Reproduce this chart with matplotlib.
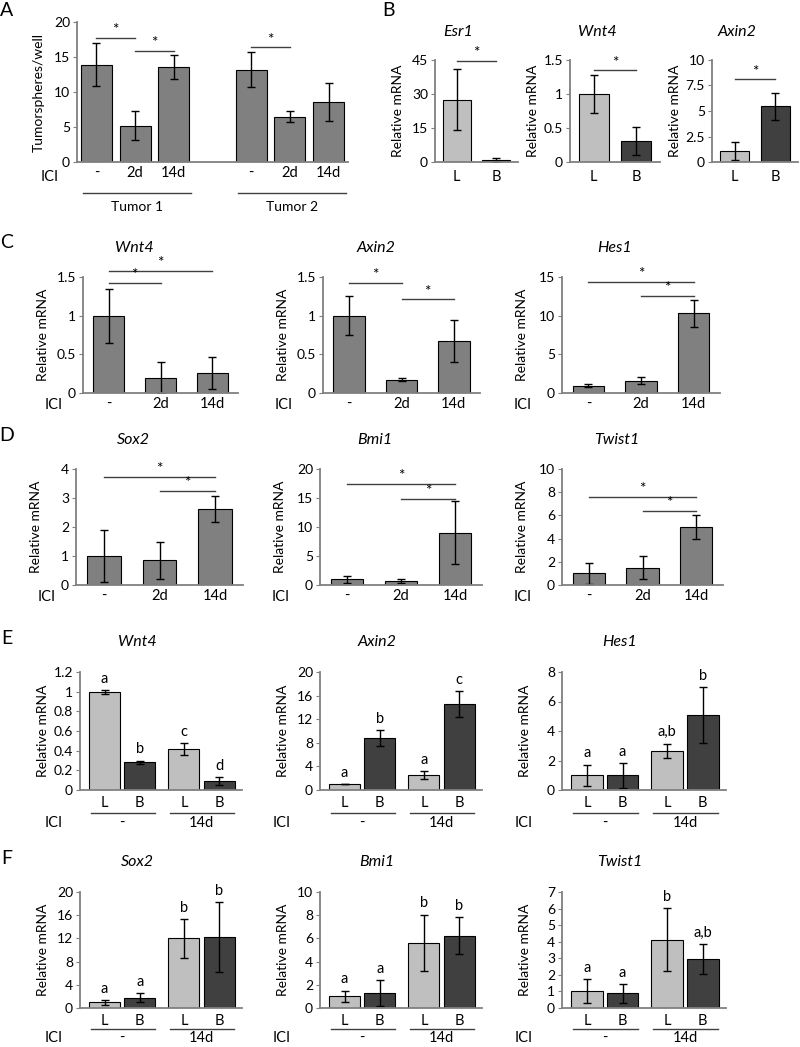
import numpy as np
import matplotlib
matplotlib.use('Agg')
import matplotlib.pyplot as plt
from matplotlib.transforms import blended_transform_factory

plt.rcParams['font.family'] = ['Lato', 'DejaVu Sans']
plt.rcParams['font.size'] = 10

W, H = 800, 1047
MID = '#808080'
LIGHT = '#bfbfbf'
DARK = '#404040'
AXC = '#808080'

# ---------------- data ----------------
# A: tumorspheres per well
a_ticks = ['-', '2d', '14d', '-', '2d', '14d']
a_vals = [13.9, 5.2, 13.6, 13.2, 6.5, 8.6]
a_errs = [3.1, 2.05, 1.7, 2.45, 0.8, 2.7]
a_groups = ['Tumor 1', 'Tumor 2']
a_sig = [(0, 1, 17.7), (1, 2, 15.9), (3, 4, 16.4)]

# B: luminal vs basal
b_genes = ['Esr1', 'Wnt4', 'Axin2']
b_ticks = ['L', 'B']
b_vals = [[27.5, 1.0], [1.0, 0.31], [1.05, 5.45]]
b_errs = [[13.5, 0.8], [0.28, 0.2], [0.9, 1.3]]
b_ymax = [45, 1.5, 10]
b_step = [15, 0.5, 2.5]
b_sig = [44.5, 1.35, 8.1]

# C / D: ICI time course
cd_ticks = ['-', '2d', '14d']
c_genes = ['Wnt4', 'Axin2', 'Hes1']
c_vals = [[1.0, 0.2, 0.26], [1.0, 0.17, 0.67], [0.95, 1.6, 10.3]]
c_errs = [[0.35, 0.2, 0.21], [0.25, 0.02, 0.27], [0.2, 0.45, 1.75]]
c_ymax = [1.5, 1.5, 15]
c_step = [0.5, 0.5, 5]
c_sig = [[(0, 2, 1.58), (0, 1, 1.42)], [(0, 1, 1.42), (1, 2, 1.21)],
         [(0, 2, 14.36), (1, 2, 12.56)]]

d_genes = ['Sox2', 'Bmi1', 'Twist1']
d_vals = [[1.0, 0.85, 2.62], [1.0, 0.7, 9.0], [1.0, 1.5, 5.0]]
d_errs = [[0.88, 0.63, 0.45], [0.6, 0.3, 5.4], [0.9, 1.0, 1.0]]
d_ymax = [4, 20, 10]
d_step = [1, 5, 2]
d_sig = [[(0, 2, 3.74), (1, 2, 3.24)], [(0, 2, 17.5), (1, 2, 14.9)],
         [(0, 2, 7.6), (1, 2, 6.4)]]

# E / F: L and B cells, with / without ICI
ef_ticks = ['L', 'B', 'L', 'B']
ef_groups = ['-', '14d']
e_genes = ['Wnt4', 'Axin2', 'Hes1']
e_vals = [[1.0, 0.28, 0.42, 0.09], [1.0, 8.8, 2.5, 14.6], [1.0, 1.0, 2.65, 5.1]]
e_errs = [[0.02, 0.02, 0.06, 0.04], [0.0, 1.4, 0.7, 2.2], [0.72, 0.85, 0.5, 1.9]]
e_letters = [['a', 'b', 'c', 'd'], ['a', 'b', 'a', 'c'], ['a', 'a', 'a,b', 'b']]
e_ymax = [1.2, 20, 8]
e_step = [0.2, 4, 2]

f_genes = ['Sox2', 'Bmi1', 'Twist1']
f_vals = [[1.0, 1.8, 12.0, 12.2], [1.0, 1.3, 5.6, 6.25], [1.02, 0.88, 4.12, 2.95]]
f_errs = [[0.4, 0.8, 3.3, 6.0], [0.5, 1.1, 2.45, 1.6], [0.7, 0.55, 1.9, 0.9]]
f_letters = [['a', 'a', 'b', 'b'], ['a', 'a', 'b', 'b'], ['a', 'a', 'b', 'a,b']]
f_ymax = [20, 10, 7]
f_step = [4, 2, 1]

fig = plt.figure(figsize=(W / 100, H / 100), dpi=100)


def add_ax(l, r, t, b):
    return fig.add_axes([l / W, 1 - b / H, (r - l) / W, (b - t) / H])


def ftext(x, y, s, **kw):
    kw.setdefault('ha', 'center')
    kw.setdefault('va', 'center')
    fig.text(x / W, 1 - y / H, s, **kw)


def style(ax, ymax, step, ylabel, lab_off):
    ax.set_ylim(0, ymax)
    ax.set_yticks(np.arange(0, ymax + step / 2, step))
    ax.set_yticklabels([f'{v:g}' for v in np.arange(0, ymax + step / 2, step)])
    for s in ['top', 'right']:
        ax.spines[s].set_visible(False)
    for s in ['left', 'bottom']:
        ax.spines[s].set_color(AXC)
        ax.spines[s].set_linewidth(1.3)
    ax.tick_params(axis='y', length=3, color=AXC, pad=2, labelsize=10)
    ax.tick_params(axis='x', length=0, pad=3, labelsize=10.5)
    ax.set_ylabel(ylabel, fontsize=10)
    wpx = ax.get_position().width * W
    ax.yaxis.set_label_coords(-lab_off / wpx, 0.5)


def bars(ax, x, v, e, colors, width):
    ax.bar(x, v, width=width, color=colors, edgecolor='black', linewidth=0.8,
           yerr=e, capsize=3,
           error_kw=dict(elinewidth=1, capthick=1, ecolor='black'), zorder=2)


def sig(ax, x1, x2, y):
    ax.plot([x1, x2], [y, y], color='#404040', lw=1, clip_on=False)
    ax.annotate('*', xy=((x1 + x2) / 2, y), xytext=(0, 0.5), textcoords='offset points',
                ha='center', va='bottom', fontsize=11, annotation_clip=False)


def fig_line(ax, x1, x2, ypx):
    tr = blended_transform_factory(ax.transData, fig.transFigure)
    ax.plot([x1, x2], [1 - ypx / H] * 2, color='#404040', lw=1,
            transform=tr, clip_on=False)


def fig_label(ax, x, ypx, s, **kw):
    tr = blended_transform_factory(ax.transData, fig.transFigure)
    ax.text(x, 1 - ypx / H, s, transform=tr, ha='center', va='center', **kw)


# ---------------- panel A ----------------
ax = add_ax(77, 348, 22, 162)
ax_x = np.array([0, 1, 2, 4, 5, 6]).astype(float)
bars(ax, ax_x, a_vals, a_errs, MID, 0.8)
ax.set_xlim(-0.5, 6.5)
style(ax, 20, 5, 'Tumorspheres/well', 32)
ax.set_xticks(ax_x)
ax.set_xticklabels(a_ticks)
for i1, i2, y in a_sig:
    sig(ax, ax_x[i1], ax_x[i2], y)
ftext(50, 177, 'ICI', fontsize=10.5)
for g, name in enumerate(a_groups):
    xs = ax_x[3 * g:3 * g + 3]
    fig_line(ax, xs[0] - 0.35, xs[-1] + 0.45, 193)
    fig_label(ax, xs.mean() + 0.05, 207, name, fontsize=10)
ftext(7, 10, 'A', fontsize=14)

# ---------------- panel B ----------------
ftext(388, 10, 'B', fontsize=14)
for i, (l, r) in enumerate([(435, 518), (570, 660), (712, 798)]):
    ax = add_ax(l, r, 60, 162)
    bars(ax, [0, 1], b_vals[i], b_errs[i], [LIGHT, DARK], 0.7)
    ax.set_xlim(-0.55, 1.55)
    style(ax, b_ymax[i], b_step[i], 'Relative mRNA', 31)
    ax.set_xticks([0, 1])
    ax.set_xticklabels(b_ticks)
    ax.tick_params(axis='x', pad=6)
    sig(ax, 0, 1, b_sig[i])
    ftext((l + r) / 2 - 18, 32, b_genes[i], fontsize=11.5, style='italic')

# ---------------- panels C and D ----------------
cd_cols = [[(83, 238), (323, 480), (562, 720)], [(76, 243), (320, 482), (562, 723)]]
cd_rows = [(277, 393), (469, 585)]
for row, (genes, vals, errs, ymax, step, sigs, letter) in enumerate([
        (c_genes, c_vals, c_errs, c_ymax, c_step, c_sig, 'C'),
        (d_genes, d_vals, d_errs, d_ymax, d_step, d_sig, 'D')]):
    t, b = cd_rows[row]
    ftext(7, t - 34, letter, fontsize=14)
    for i, (l, r) in enumerate(cd_cols[row]):
        ax = add_ax(l, r, t, b)
        bars(ax, [0, 1, 2], vals[i], errs[i], MID, 0.6)
        ax.set_xlim(-0.5, 2.5)
        style(ax, ymax[i], step[i], 'Relative mRNA', 34)
        ax.set_xticks([0, 1, 2])
        ax.set_xticklabels(cd_ticks)
        for x1, x2, y in sigs[i]:
            sig(ax, x1, x2, y)
        ftext((l + r) / 2 - 26, t - 29, genes[i], fontsize=11.5, style='italic')
        ftext(l - (29 if i == 0 else 39), b + 12, 'ICI', fontsize=10.5)

# ---------------- panels E and F ----------------
ef_x = np.array([0, 1, 2.25, 3.25])
ef_cols = [(80, 242), (320, 482), (562, 726)]
ef_rows = [(672, 790), (892, 1008)]
for row, (genes, vals, errs, letters, ymax, step, letter) in enumerate([
        (e_genes, e_vals, e_errs, e_letters, e_ymax, e_step, 'E'),
        (f_genes, f_vals, f_errs, f_letters, f_ymax, f_step, 'F')]):
    t, b = ef_rows[row]
    line_y = b + 23 if row == 0 else b + 21
    lab_y = b + 33 if row == 0 else b + 30
    ftext(7, t - 33, letter, fontsize=14)
    for i, (l, r) in enumerate(ef_cols):
        ax = add_ax(l, r, t, b)
        bars(ax, ef_x, vals[i], errs[i], [LIGHT, DARK, LIGHT, DARK], 0.88)
        ax.set_xlim(-0.7, 3.9)
        style(ax, ymax[i], step[i], 'Relative mRNA', 31)
        ax.set_xticks(ef_x)
        ax.set_xticklabels(ef_ticks)
        ax.tick_params(axis='x', pad=4)
        for x, v, e, s in zip(ef_x, vals[i], errs[i], letters[i]):
            ax.annotate(s, xy=(x, v + e), xytext=(0, 3), textcoords='offset points',
                        ha='center', va='bottom', fontsize=10.5, annotation_clip=False)
        for g, name in enumerate(ef_groups):
            xs = ef_x[2 * g:2 * g + 2]
            fig_line(ax, xs[0] - 0.4, xs[1] + 0.42, line_y)
            fig_label(ax, xs.mean(), lab_y, name, fontsize=10.5)
        ftext((l + r) / 2 - 24, t - 30, genes[i], fontsize=11.5, style='italic')
        ftext(l - (26 if i == 0 else 38), lab_y, 'ICI', fontsize=10.5)

fig.savefig('out.png', dpi=100)
